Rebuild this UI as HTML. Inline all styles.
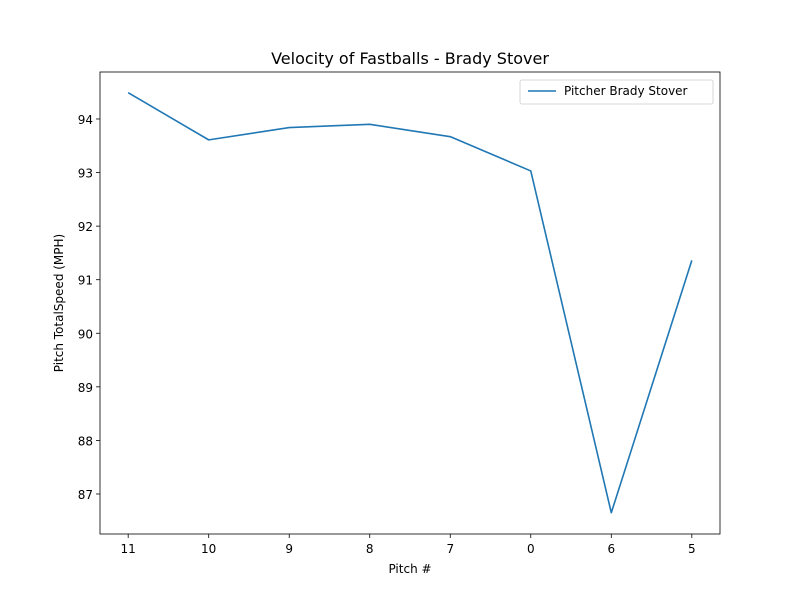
<!DOCTYPE html>
<html><head><meta charset="utf-8">
<style>
html,body{margin:0;padding:0;background:#fff;}
svg{display:block;font-family:"DejaVu Sans","Liberation Sans",sans-serif;}
</style></head>
<body>
<svg id="chart" width="800" height="600"></svg>
<script>
const categories = ["11","10","9","8","7","0","6","5"];
const speeds = [94.49, 93.61, 93.84, 93.90, 93.67, 93.03, 86.65, 91.36];
const yTicks = [87,88,89,90,91,92,93,94];
const seriesName = "Pitcher Brady Stover";

const L=100,R=720,T=72,B=534;
const yMin=86.253,yMax=94.877;
const xMin=-0.35,xMax=categories.length-1+0.35;
const X=i=>L+(i-xMin)/(xMax-xMin)*(R-L);
const Y=v=>B-(v-yMin)/(yMax-yMin)*(B-T);
const NS="http://www.w3.org/2000/svg";
const svg=document.getElementById('chart');
function el(tag,attrs,parent){const e=document.createElementNS(NS,tag);for(const k in attrs)e.setAttribute(k,attrs[k]);(parent||svg).appendChild(e);return e;}

const title=el('text',{x:410,y:64,'text-anchor':'middle','font-size':16,fill:'#000'});
title.textContent="Velocity of Fastballs - Brady Stover";



categories.forEach((c,i)=>{
  const x=X(i);
  const t=el('line',{x1:x,x2:x,y1:B,y2:B+4,stroke:'#000','stroke-width':0.8});
  
  
  const lb=el('text',{x:x,y:B+19,'text-anchor':'middle','font-size':12,fill:'#000'});
  lb.textContent=c;
  
  
});
yTicks.forEach(v=>{
  const y=Y(v);
  const t=el('line',{x1:L-4,x2:L,y1:y,y2:y,stroke:'#000','stroke-width':0.8});
  
  
  const lb=el('text',{x:L-7,y:y+5,'text-anchor':'end','font-size':12,fill:'#000'});
  lb.textContent=v;
  
  
});

const pts=speeds.map((v,i)=>X(i)+','+Y(v)).join(' ');
const line=el('polyline',{points:pts,fill:'none',stroke:'#1f77b4','stroke-width':1.6,'stroke-linejoin':'round'});



const frame=el('rect',{x:L,y:T,width:R-L,height:B-T,fill:'none',stroke:'#000','stroke-width':0.8});



const xt=el('text',{x:410,y:573,'text-anchor':'middle','font-size':12,fill:'#000'});
xt.textContent="Pitch #";


const yt=el('text',{x:0,y:0,'text-anchor':'middle','font-size':12,fill:'#000',transform:'translate(63,303) rotate(-90)'});
yt.textContent="Pitch TotalSpeed (MPH)";



const lg=el('g',{});


el('rect',{x:520,y:80,width:193,height:24,rx:2,fill:'#fff',stroke:'#ccc','stroke-width':0.8},lg);
el('line',{x1:528,x2:556,y1:91,y2:91,stroke:'#1f77b4','stroke-width':1.5},lg);
const lt=el('text',{x:564,y:95,'font-size':12,fill:'#000'},lg);
lt.textContent=seriesName;


</script>
</body></html>
